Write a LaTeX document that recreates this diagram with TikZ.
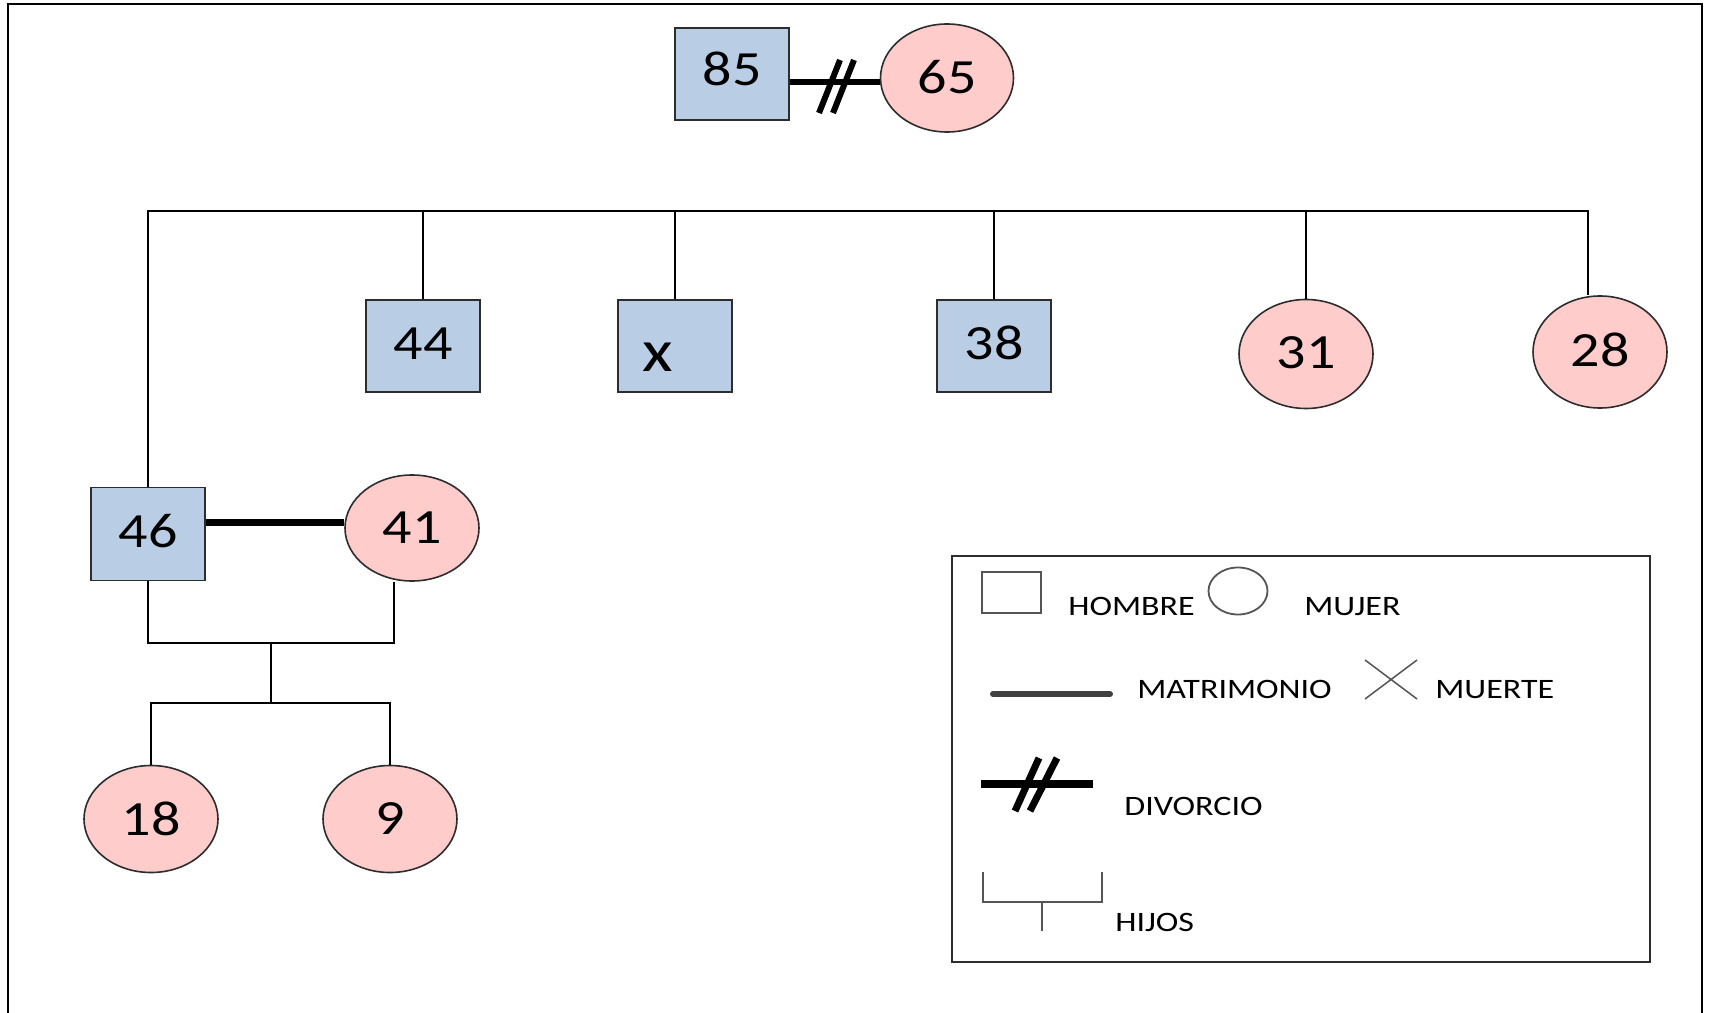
\documentclass[tikz,border=0pt]{standalone}
\usepackage{fontspec}
\setmainfont{Carlito}
\usepackage{graphicx}
\usetikzlibrary{shapes.geometric,calc}
\newlength\pxu
\setlength\pxu{0.02cm}
\definecolor{boxblue}{RGB}{185,205,229}
\definecolor{pinkfill}{RGB}{255,204,204}
\definecolor{edgegray}{RGB}{45,45,45}
\definecolor{leggray}{RGB}{85,85,85}
\newcommand\numtxt[1]{\scalebox{1.18}[1]{\fontsize{28pt}{30pt}\selectfont #1}}
\newcommand\numup[2]{\raisebox{#1\pxu}{\numtxt{#2}}}
\newcommand\legtxt[1]{\scalebox{1.21}[1]{\fontsize{16pt}{18pt}\selectfont #1}}
\tikzset{
  male/.style={rectangle, draw=edgegray, fill=boxblue, line width=1.6\pxu,
    minimum width=114\pxu, minimum height=92\pxu, inner sep=0pt},
  female/.style={ellipse, draw=edgegray, fill=pinkfill, line width=1.6\pxu,
    minimum width=134\pxu, minimum height=107\pxu, inner sep=0pt},
  conn/.style={line width=1.7\pxu, black},
  marriage/.style={line width=7\pxu, black},
  divline/.style={line width=5.5\pxu, black},
  slash/.style={line width=6\pxu, black},
  legframe/.style={rectangle, draw=edgegray, line width=2.2\pxu, inner sep=0pt,
    minimum width=698\pxu, minimum height=406\pxu},
  legsq/.style={rectangle, draw=leggray, line width=2\pxu, inner sep=0pt,
    minimum width=59\pxu, minimum height=41\pxu},
  legcirc/.style={ellipse, draw=leggray, line width=1.8\pxu, inner sep=0pt,
    minimum width=59\pxu, minimum height=47\pxu},
  legtext/.style={anchor=base west, inner sep=0pt, text=black},
  legthin/.style={line width=1.5\pxu, leggray},
  legmar/.style={line width=6\pxu, black!75, line cap=round},
  leghijo/.style={line width=2.2\pxu, leggray},
}
\begin{document}
\begin{tikzpicture}[x=0.02cm,y=-0.02cm]
\useasboundingbox (0,0) rectangle (1710,1013);
\fill[white] (0,0) rectangle (1710,1013);
\draw[line width=2.5\pxu] (8,1013) -- (8,4) -- (1702,4) -- (1702,1013);

% grandparents
\node[male] (p85) at (732,74) {\numup{10}{85}};
\node[female, minimum height=108\pxu, minimum width=133\pxu] (m65) at (947,78) {\numup{3}{65}};
\coordinate (dj) at ($(p85.east)+(0,8)$);
\draw[divline] (dj) -- (dj -| m65.west);
\draw[slash] (819,113) -- (840,60) (833,113) -- (854,60);

% children
\node[male] (p44) at (423,346) {\numup{4}{44}};
\node[male] (px) at (675,346) {};
\node[anchor=base, inner sep=0pt] (tx) at (658,372) {\scalebox{1.18}[1]{\fontsize{34pt}{36pt}\selectfont x}};
\node[male] (p38) at (994,346) {\numup{6}{38}};
\node[female, minimum height=109\pxu] (m31) at (1306,354) {\numup{2}{31}};
\node[female, minimum height=112\pxu] (m28) at (1600,352) {\numup{5}{28}};
\node[male, minimum height=93\pxu] (p46) at (148,534) {\numup{7}{46}};
\node[female, minimum height=106\pxu] (m41) at (412,528) {\numtxt{41}};
\node[female] (m18) at (151,819) {\numtxt{18}};
\node[female] (m9) at (390,819) {\numtxt{9}};

\coordinate (s28) at (1588,211);
\draw[conn] (p46.north) -- (p46.north |- s28) -- (s28) -- (s28 |- m28.north);
\draw[conn] (p44.north) -- (p44.north |- s28);
\draw[conn] (px.north) -- (px.north |- s28);
\draw[conn] (p38.north) -- (p38.north |- s28);
\draw[conn] (m31.north) -- (m31.north |- s28);

% couple 46 - 41
\coordinate (mj) at ($(p46.east)+(0,-12)$);
\draw[marriage] (mj) -- (mj -| m41.west);
\coordinate (j41) at (394,582);
\coordinate (fam) at (271,643);
\coordinate (kids) at (271,703);
\draw[conn] (p46.south) -- (p46.south |- fam) -- (j41 |- fam) -- (j41);
\draw[conn] (fam) -- (kids);
\draw[conn] (m18.north) -- (m18.north |- kids) -- (m9.north |- kids) -- (m9.north);

% legend
\node[legframe] (leg) at (1301,759) {};
\node[legsq] (lsq) at (1011.5,592.5) {};
\node[legtext] (lhombre) at (1068,615) {\legtxt{HOMBRE}};
\node[legcirc] (lcirc) at (1238,591) {};
\node[legtext] (lmujer) at (1304,615) {\legtxt{MUJER}};
\draw[legmar] (993,694) -- (1110,694);
\node[legtext] (lmatr) at (1137,698) {\legtxt{MATRIMONIO}};
\draw[legthin] (1365,660) -- (1417,699) (1365,699) -- (1417,660);
\node[legtext] (lmuer) at (1435,698) {\legtxt{MUERTE}};
\draw[line width=8\pxu] (981,784) -- (1093,784);
\draw[line width=7\pxu] (1015,811) -- (1039,758) (1030,811) -- (1057,758);
\node[legtext] (ldiv) at (1124,815) {\legtxt{DIVORCIO}};
\draw[leghijo] (983,872) -- (983,902) -- (1102,902) -- (1102,872) (1042,902) -- (1042,931);
\node[legtext] (lhijos) at (1115,931) {\legtxt{HIJOS}};
\end{tikzpicture}
\end{document}
